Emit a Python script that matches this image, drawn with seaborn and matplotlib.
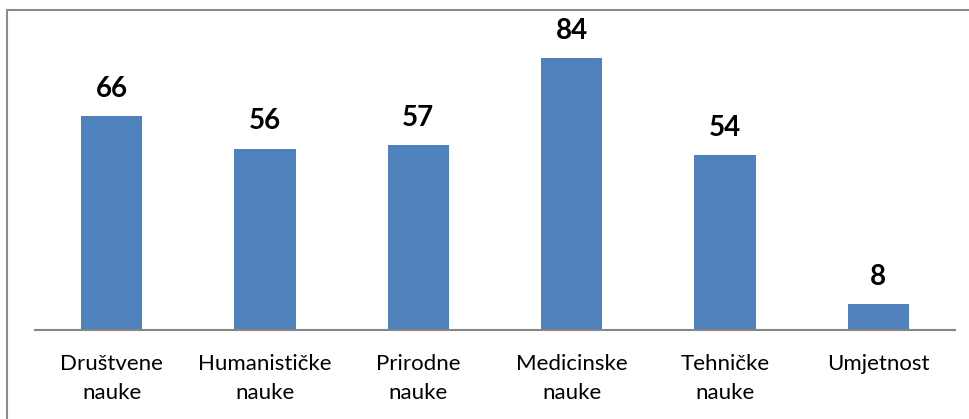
import matplotlib
matplotlib.use("Agg")
import matplotlib.pyplot as plt
import seaborn as sns
import pandas as pd
from matplotlib.patches import Rectangle

categories = ["Društvene\nnauke", "Humanističke\nnauke", "Prirodne\nnauke",
              "Medicinske\nnauke", "Tehničke\nnauke", "Umjetnost"]
values = [66, 56, 57, 84, 54, 8]

sns.set_theme(style="white")
plt.rcParams["font.family"] = ["Lato", "DejaVu Sans"]

df = pd.DataFrame({"cat": categories, "val": values})

fig = plt.figure(figsize=(9.7, 4.19), dpi=100)
ax = fig.add_axes([35/970, 1-330/419, 920/970, 300/419])
sns.barplot(data=df, x="cat", y="val", color="#4F81BD", saturation=1,
            width=0.4, ax=ax, linewidth=0)
ax.set_ylim(0, 300/3.238)
ax.set_xlim(-0.5, len(categories)-0.5)
ax.set_xlabel("")
ax.set_ylabel("")
ax.set_yticks([])
for s in ["top", "right", "left"]:
    ax.spines[s].set_visible(False)
ax.spines["bottom"].set_color("#868686")
ax.spines["bottom"].set_linewidth(1.5)
ax.tick_params(axis="x", length=0, pad=17, labelsize=16, colors="black")
for lbl in ax.get_xticklabels():
    lbl.set_linespacing(1.6)

for i, v in enumerate(values):
    ax.annotate(str(v), (i, v), xytext=(0, 14), textcoords="offset points",
                ha="center", va="baseline", fontsize=20, fontweight="bold",
                color="black")

fig.patches.append(Rectangle((7/970, -0.05), 1.1, 1-10/419+0.05,
                             transform=fig.transFigure, fill=False,
                             edgecolor="#8C8C8C", linewidth=1.5))
fig.savefig("out.png", dpi=100)
